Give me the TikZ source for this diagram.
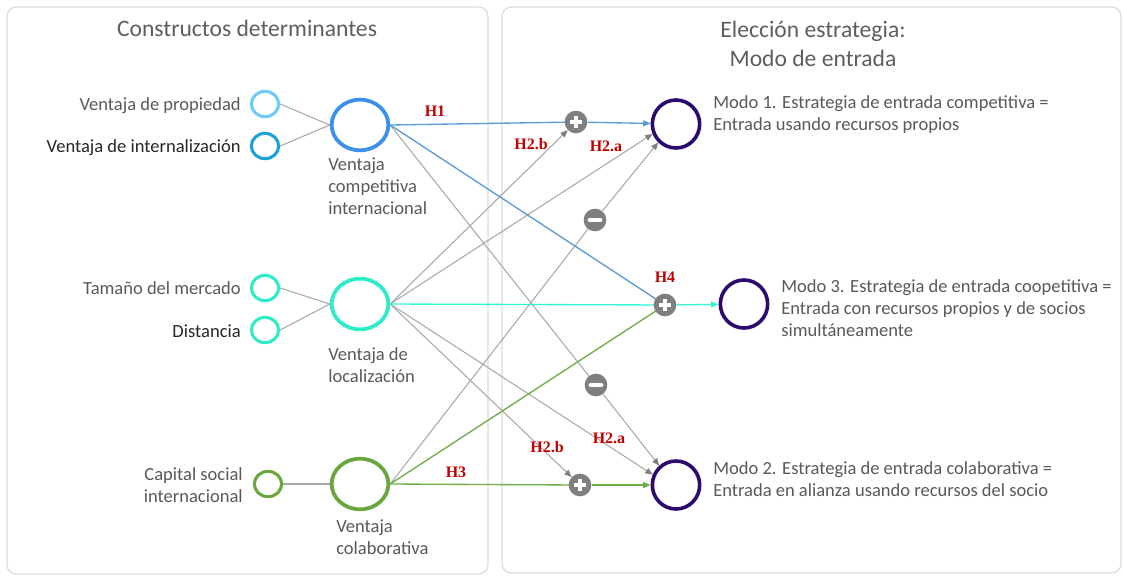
\documentclass[tikz,border=0pt]{standalone}
\usepackage{fontspec}
\setmainfont{Carlito}
\newfontfamily\hfont{Liberation Serif}
\usetikzlibrary{shapes.geometric,arrows.meta}
\definecolor{panelc}{HTML}{DCDCDC}
\definecolor{txtc}{HTML}{595959}
\definecolor{titc}{HTML}{5E5E5E}
\definecolor{darkc}{HTML}{262626}
\definecolor{cprop}{HTML}{6CCBF7}
\definecolor{cint}{HTML}{1AA2D8}
\definecolor{ccomp}{HTML}{3C8FEA}
\definecolor{cloc}{HTML}{2EEBC9}
\definecolor{ccol}{HTML}{6AA63E}
\definecolor{cmode}{HTML}{2C0A6E}
\definecolor{signc}{HTML}{7F7F7F}
\definecolor{glinec}{HTML}{A9A9A9}
\definecolor{gtipc}{HTML}{808080}
\definecolor{blinec}{HTML}{5B9BD5}
\definecolor{clinec}{HTML}{33F5D5}
\definecolor{grlinec}{HTML}{70AD47}
\definecolor{redc}{HTML}{C00000}
\pgfdeclarelayer{bg}
\pgfsetlayers{bg,main}
\begin{document}
\begin{tikzpicture}[x=0.75pt,y=-0.75pt,
  panel/.style={draw=panelc, line width=0.9pt, rounded corners=7pt},
  smallc/.style={ellipse, line width=2.3pt, minimum width=20.5pt, minimum height=19pt, inner sep=0},
  bigc/.style={ellipse, line width=2.8pt, minimum width=42.5pt, minimum height=38pt, inner sep=0},
  modec/.style={ellipse, draw=cmode, line width=2.7pt, minimum width=35.5pt, minimum height=36pt, inner sep=0},
  signbase/.style={circle, fill=signc, minimum size=17pt, inner sep=0},
  plusc/.style={signbase, path picture={
     \draw[white,line width=3pt] ([xshift=-4.8pt]path picture bounding box.center) -- ([xshift=4.8pt]path picture bounding box.center);
     \draw[white,line width=3pt] ([yshift=-4.8pt]path picture bounding box.center) -- ([yshift=4.8pt]path picture bounding box.center);}},
  minusc/.style={signbase, path picture={
     \draw[white,line width=3.4pt,line cap=round] ([xshift=-3.9pt]path picture bounding box.center) -- ([xshift=3.9pt]path picture bounding box.center);}},
  lab/.style={text=txtc, inner sep=0, font=\fontsize{13.9}{16.5}\selectfont},
  hyp/.style={text=redc, inner sep=0, font=\hfont\bfseries\fontsize{12}{14}\selectfont},
  gline/.style={draw=glinec, line width=0.8pt},
  garrow/.style={gline, -{Triangle[length=5.5pt,width=4.5pt,color=gtipc]}},
  bline/.style={draw=blinec, line width=1pt},
  cline/.style={draw=clinec, line width=1pt},
  grline/.style={draw=grlinec, line width=1pt},
  carrow/.style={-{Triangle[length=5.5pt,width=4.5pt]}}
]
\useasboundingbox (0,0) rectangle (1123,576);

% titles (multi-line nodes: base = last line)
\node[text=titc, inner sep=0, anchor=base, font=\fontsize{17.7}{21}\selectfont] (t1) at (247,36) {Constructos determinantes};
\node[text=titc, inner sep=0, anchor=base, align=center, font=\fontsize{17.7}{21.75}\selectfont] (t2) at (813,66) {Elección estrategia:\\Modo de entrada};

% construct circles
\node[smallc, draw=cprop] (prop) at (265,104) {};
\node[smallc, draw=cint] (int) at (265,146) {};
\node[smallc, draw=cloc] (tam) at (265,288) {};
\node[smallc, draw=cloc] (dist) at (265,330) {};
\node[smallc, draw=ccol] (cap) at (268,484) {};
\node[bigc, draw=ccomp] (comp) at (360,125) {};
\node[bigc, draw=cloc] (loc) at (360,304) {};
\node[bigc, draw=ccol] (col) at (360,484) {};

% mode circles
\node[modec] (m1) at (676,124) {};
\node[modec] (m3) at (744,304) {};
\node[modec] (m2) at (676,485) {};

% signs
\node[plusc] (p1) at (576,122) {};
\node[minusc] (n1) at (595,220) {};
\node[plusc] (p4) at (665,305) {};
\node[minusc] (n2) at (596,385) {};
\node[plusc] (p2) at (580,485) {};

% labels left
\node[lab, anchor=base east] (tprop) at (241,110) {Ventaja de propiedad};
\node[lab, text=darkc, anchor=base east] (tint) at (241,152) {Ventaja de internalización};
\node[lab, anchor=base east] (ttam) at (241,294) {Tamaño del mercado};
\node[lab, text=darkc, anchor=base east] (tdist) at (241,337) {Distancia};
\node[lab, anchor=base east, align=right] (tcap) at (243,502) {Capital social\\internacional};
\node[lab, anchor=base west, align=left] (tcomp) at (328,214) {Ventaja\\competitiva\\internacional};
\node[lab, anchor=base west, align=left] (tloc) at (328,382) {Ventaja de\\localización};
\node[lab, anchor=base west, align=left] (tcol) at (336,554) {Ventaja\\colaborativa};

% labels right
\node[lab, anchor=base west, align=left] (tm1) at (713,130) {Modo 1. Estrategia de entrada competitiva =\\Entrada usando recursos propios};
\node[lab, anchor=base west, align=left] (tm3) at (781,336) {Modo 3. Estrategia de entrada coopetitiva =\\Entrada con recursos propios y de socios\\simultáneamente};
\node[lab, anchor=base west, align=left] (tm2) at (713,496) {Modo 2. Estrategia de entrada colaborativa =\\Entrada en alianza usando recursos del socio};

% hypotheses
\node[hyp] (h1) at (435,111) {H1};
\node[hyp] (h2bt) at (531,144) {H2.b};
\node[hyp] (h2at) at (606,146) {H2.a};
\node[hyp] (h4) at (665,277) {H4};
\node[hyp] (h3) at (456,472) {H3};
\node[hyp] (h2bb) at (547,447) {H2.b};
\node[hyp] (h2ab) at (609,438) {H2.a};

\begin{pgfonlayer}{bg}
\fill[white] (0,0) rectangle (1123,576);
\draw[panel] (7,7) rectangle (488,574);
\draw[panel] (502,7) rectangle (1121,573);
% inputs
\draw[gline] (prop.east) -- (comp.west);
\draw[gline] (int.east) -- (comp.west);
\draw[gline] (tam.east) -- (loc.west);
\draw[gline] (dist.east) -- (loc.west);
\draw[gline] (cap.east) -- (col.west);
% gray
\draw[gline] (comp.east) -- (n2.center);
\draw[garrow] (n2) -- (m2.131);
\draw[garrow] (loc.east) -- (p1);
\draw[garrow] (loc.east) -- (m1.203);
\draw[garrow] (loc.east) -- (m2.156);
\draw[garrow] (loc.east) -- (p2);
\draw[gline] (col.east) -- (n1.center);
\draw[garrow] (n1) -- (m1.226);
% blue
\draw[bline] (comp.east) -- (p1.center);
\draw[bline, carrow] (p1) -- (m1);
\draw[bline] (comp.east) -- (p4.center);
% cyan
\draw[cline] (loc.east) -- (p4.center);
\draw[cline, carrow] (p4) -- (m3);
% green
\draw[grline] (col.east) -- (p4.center);
\draw[grline] (col.east) -- (p2.center);
\draw[grline, carrow] (p2) -- (m2);
\end{pgfonlayer}
\end{tikzpicture}
\end{document}
